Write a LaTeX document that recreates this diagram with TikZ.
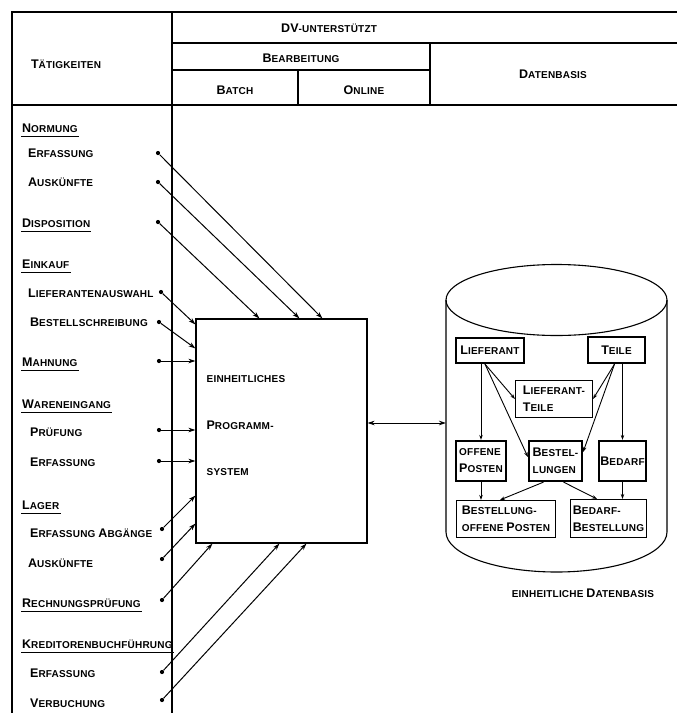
\documentclass[tikz,border=0pt]{standalone}
\usepackage{fontspec}
\setmainfont{Liberation Sans Bold}[LetterSpace=2]
\usepackage{tikz}
\usetikzlibrary{
    arrows.meta,
    positioning,
    calc,
}

\newcommand\kap[1]{{\fontsize{12.5}{13}\selectfont #1}}
\newcommand\itemfont{\fontsize{10}{11.5}\selectfont}
\newcommand\boxfont{\fontsize{10}{17}\selectfont}

\begin{document}
\begin{tikzpicture}[
        x=1pt, y=-1pt,
        >={Stealth[length=7pt,width=4.5pt]},
        font=\itemfont,
        rule/.style={line width=1.1pt},
        item/.style={anchor=west, inner sep=0pt, font=\itemfont},
        head/.style={
            anchor=west, inner xsep=1pt, inner ysep=3.5pt, font=\itemfont,
            append after command={(\tikzlastnode.south west) edge[line width=0.9pt] (\tikzlastnode.south east)}
        },
        dot/.style={circle, fill=black, inner sep=0pt, minimum size=4.2pt},
        feed/.style={->, line width=1pt},
        entity/.style={
            rectangle, draw, line width=2.2pt, inner sep=1pt,
            align=left, font=\boxfont
        },
        relation/.style={
            rectangle, draw, line width=1.1pt, inner sep=1pt,
            align=left, font=\boxfont
        },
        link/.style={-{Stealth[length=5pt,width=3.5pt]}, line width=0.9pt},
    ]
    \useasboundingbox (0,0) rectangle (677,713);

    % ── Table frame ──
    \draw[rule] (12,713) -- (12,12) -- (677,12);
    \draw[rule] (172,12) -- (172,713);
    \draw[rule] (172,43) -- (677,43);
    \draw[rule] (172,70) -- (430,70);
    \draw[rule] (298,70) -- (298,105);
    \draw[rule] (430,43) -- (430,105);
    \draw[rule] (12,105) -- (677,105);

    % ── Header ──
    \node (taetig) at (66,64) {\kap{T}ÄTIGKEITEN};
    \node (dvu) at (329,28) {\kap{DV}-UNTERSTÜTZT};
    \node (bearb) at (301,58) {\kap{B}EARBEITUNG};
    \node (batch) at (235,90) {\kap{B}ATCH};
    \node (online) at (364,90) {\kap{O}NLINE};
    \node (datenb) at (553,74) {\kap{D}ATENBASIS};

    % ── Activities ──
    \node[head] (normung) at (21,128) {\kap{N}ORMUNG};
    \node[item] (normerf) at (28,153) {\kap{E}RFASSUNG};
    \node[item] (normausk) at (28,182) {\kap{A}USKÜNFTE};
    \node[head] (dispo) at (21,223) {\kap{D}ISPOSITION};
    \node[head] (einkauf) at (21,264) {\kap{E}INKAUF};
    \node[item] (liefausw) at (28,293) {\kap{L}IEFERANTENAUSWAHL};
    \node[item] (bestschr) at (30,322) {\kap{B}ESTELLSCHREIBUNG};
    \node[head] (mahnung) at (21,362) {\kap{M}AHNUNG};
    \node[head] (waren) at (21,404) {\kap{W}ARENEINGANG};
    \node[item] (pruef) at (30,432) {\kap{P}RÜFUNG};
    \node[item] (warerf) at (30,462) {\kap{E}RFASSUNG};
    \node[head] (lager) at (21,505) {\kap{L}AGER};
    \node[item] (abgang) at (30,533) {\kap{E}RFASSUNG \kap{A}BGÄNGE};
    \node[item] (lagausk) at (28,563) {\kap{A}USKÜNFTE};
    \node[head] (rechpr) at (21,603) {\kap{R}ECHNUNGSPRÜFUNG};
    \node[head] (kredit) at (21,644) {\kap{K}REDITORENBUCHFÜHRUNG};
    \node[item] (krederf) at (30,673) {\kap{E}RFASSUNG};
    \node[item] (verbuch) at (30,703) {\kap{V}ERBUCHUNG};

    % ── Dots ──
    \node[dot] (dNormErf) at (158,153) {};
    \node[dot] (dNormAusk) at (158,182) {};
    \node[dot] (dDispo) at (158,222) {};
    \node[dot] (dLiefAusw) at (161,292) {};
    \node[dot] (dBestSchr) at (159,322) {};
    \node[dot] (dMahnung) at (159,361) {};
    \node[dot] (dPruef) at (159,430) {};
    \node[dot] (dWarErf) at (159,461) {};
    \node[dot] (dAbgang) at (162,529) {};
    \node[dot] (dLagAusk) at (162,559) {};
    \node[dot] (dRechPr) at (162,600) {};
    \node[dot] (dKredErf) at (162,672) {};
    \node[dot] (dVerbuch) at (162,700) {};

    % ── Program system ──
    \node[draw, rule, minimum width=171pt, minimum height=224pt] (prog) at (281.5,431) {};
    \node[align=left, anchor=west, inner sep=0pt] (progtxt) at ([xshift=11pt,yshift=5pt]prog.west)
        {EINHEITLICHES\\[35pt]\kap{P}ROGRAMM-\\[35pt]SYSTEM};

    % ── Arrows into program system ──
    \draw[feed] (dNormErf) -- ([xshift=127pt]prog.north west);
    \draw[feed] (dNormAusk) -- ([xshift=104pt]prog.north west);
    \draw[feed] (dDispo) -- ([xshift=64pt]prog.north west);
    \draw[feed] (dLiefAusw) -- ([yshift=-6pt]prog.north west);
    \draw[feed] (dBestSchr) -- ([yshift=-30pt]prog.north west);
    \draw[feed] (dMahnung) -- (dMahnung -| prog.west);
    \draw[feed] (dPruef) -- (dPruef -| prog.west);
    \draw[feed] (dWarErf) -- (dWarErf -| prog.west);
    \draw[feed] (dAbgang) -- ([yshift=48pt]prog.south west);
    \draw[feed] (dLagAusk) -- ([yshift=20pt]prog.south west);
    \draw[feed] (dRechPr) -- ([xshift=17pt]prog.south west);
    \draw[feed] (dKredErf) -- ([xshift=84pt]prog.south west);
    \draw[feed] (dVerbuch) -- ([xshift=111pt]prog.south west);

    % ── Database cylinder ──
    \draw[rule] (556.5,300) ellipse [x radius=110.5, y radius=35.5];
    \draw[rule] (446,300) -- (446,532) arc[start angle=180, end angle=0, x radius=110.5, y radius=40] -- (667,300);
    \coordinate (dbwest) at (446,423);
    \draw[<->, line width=1pt] (prog.east |- dbwest) -- (dbwest);
    \node (dbcap) at (583,593) {EINHEITLICHE \kap{D}ATENBASIS};

    % ── Entities ──
    \node[entity, minimum width=68pt, minimum height=25pt] (lief) at (490,350.5) {\kap{L}IEFERANT};
    \node[entity, minimum width=57pt, minimum height=26pt] (teile) at (616.5,350) {\kap{T}EILE};
    \node[relation, minimum width=77pt, minimum height=37pt] (liefteile) at (554,399) {\kap{L}IEFERANT-\\\kap{T}EILE};
    \node[entity, minimum width=50pt, minimum height=40pt] (offpos) at (481,461) {OFFENE\\\kap{P}OSTEN};
    \node[entity, minimum width=53pt, minimum height=40pt] (bestell) at (555.5,461) {\kap{B}ESTEL-\\LUNGEN};
    \node[entity, minimum width=47pt, minimum height=40pt] (bedarf) at (622.5,461) {\kap{B}EDARF};
    \node[relation, minimum width=99pt, minimum height=37pt] (bop) at (506,519) {\kap{B}ESTELLUNG-\\OFFENE \kap{P}OSTEN};
    \node[relation, minimum width=76pt, minimum height=38pt] (bb) at (608.5,518.5) {\kap{B}EDARF-\\\kap{B}ESTELLUNG};

    % ── Links ──
    \draw[link] ([xshift=-5pt]lief.south) -- (liefteile.west);
    \draw[link] (lief.south -| offpos.north) -- (offpos.north);
    \draw[link] ([xshift=-5pt]lief.south) -- ([yshift=4pt]bestell.west);
    \draw[link] ([xshift=-2pt]teile.south) -- (liefteile.east);
    \draw[link] (teile.south -| bedarf.north) -- (bedarf.north);
    \draw[link] ([xshift=-2pt]teile.south) -- ([yshift=9pt]bestell.east);
    \draw[link] (offpos.south) -- (offpos.south |- bop.north);
    \draw[link] ([xshift=-12pt]bestell.south) -- ([xshift=-6pt]bop.north);
    \draw[link] ([xshift=8pt]bestell.south) -- ([xshift=-11.5pt]bb.north);
    \draw[link] (bedarf.south) -- (bedarf.south |- bb.north);

\end{tikzpicture}
\end{document}
